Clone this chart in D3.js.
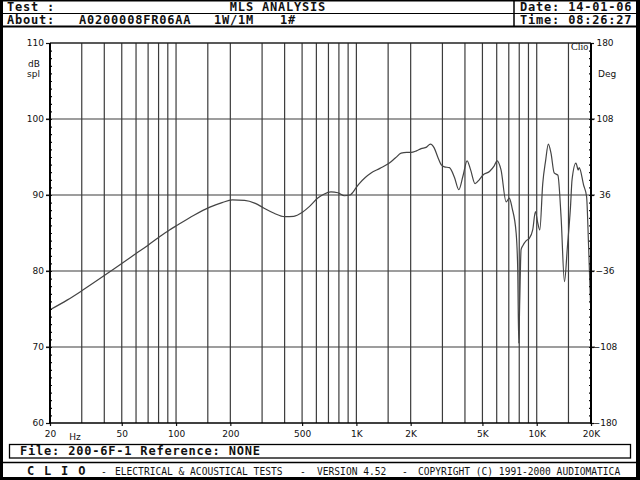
<!DOCTYPE html>
<html><head><meta charset="utf-8">
<script src="https://cdn.jsdelivr.net/npm/d3@7"></script>
<style>body{margin:0;background:#fff}svg{display:block}</style>
</head><body>
<script>
// ---- data ----
const freqs = [20,25,30,40,50,60,70,80,92,102,125,154,180,205,240,275,306,350,400,450,500,550,611,660,723,790,858,920,1000,1038,1120,1206,1350,1524,1650,1770,1900,2010,2150,2286,2450,2572,2700,2826,2950,3077,3280,3500,3698,3900,4112,4300,4552,4800,5022,5472,5800,6031,6340,6765,7050,7300,7690,7850,7950,8050,8190,8400,8750,9100,9500,9840,10100,10400,10800,11200,11600,12000,12500,13100,13650,14250,14800,15400,15700,16500,17000,17200,18200,18900,19400,20000];
const splDb = [74.9,76.2,77.4,79.4,81.0,82.3,83.4,84.4,85.4,86.05,87.3,88.4,89.0,89.35,89.3,88.9,88.3,87.6,87.15,87.2,87.7,88.5,89.6,90.1,90.4,90.3,89.9,90.0,91.0,91.5,92.3,92.9,93.5,94.2,94.9,95.5,95.6,95.6,95.8,96.1,96.3,96.7,96.2,95.0,94.0,93.7,93.6,92.3,90.7,92.5,94.5,93.3,91.5,92.0,92.6,93.1,93.8,94.5,93.3,89.1,89.6,88.3,85.0,80.0,70.5,76.0,82.8,83.4,84.0,84.3,85.4,87.8,86.5,85.4,91.5,94.5,96.7,95.5,92.9,92.6,87.1,78.6,83.2,88.5,92.0,94.2,93.3,93.6,91.3,89.8,83.2,74.0];
const gridFreqs = [30,40,50,60,70,80,90,100,150,200,300,400,500,600,700,800,900,1000,1500,2000,3000,4000,5000,6000,7000,8000,9000,10000,15000];
const xTickValues = [20,50,100,200,500,1000,2000,5000,10000,20000];
const xTickLabels = ["20","50","100","200","500","1K","2K","5K","10K","20K"];
const yTicks = [60,70,80,90,100,110];
const yGrid = [70,80,90,100];
const degTicks = [-180,-108,-36,36,108,180];
const headerTexts = {test:"Test :", title:"MLS ANALYSIS", date:"Date: 14-01-06", about:"About:", code:"A0200008FR06AA", power:"1W/1M", num:"1#", time:"Time: 08:26:27"};
const fileText = "File: 200-6F-1 Reference: NONE";

// ---- layout ----
const W = 640, H = 480;
const L = 50, R = 591, T = 43, B = 423;
const svg = d3.select("body").append("svg").attr("width", W).attr("height", H);
svg.append("rect").attr("width", W).attr("height", H).attr("fill", "#fff");

const x = d3.scaleLog().domain([20, 20000]).range([L, R]);
const y = d3.scaleLinear().domain([60, 110]).range([B, T]);
const yd = d3.scaleLinear().domain([-180, 180]).range([B, T]);

const mono = "'DejaVu Sans Mono', 'Liberation Mono', monospace";
const sans = "'DejaVu Sans', Verdana, sans-serif";

// grid
const grid = svg.append("g").attr("stroke", "#3c3c3c").attr("stroke-width", 1.2);
grid.selectAll("line.v").data(gridFreqs).join("line").attr("class","v")
  .attr("x1", d => x(d)).attr("x2", d => x(d)).attr("y1", T).attr("y2", B);
grid.selectAll("line.h").data(yGrid).join("line").attr("class","h")
  .attr("x1", L - 4).attr("x2", R + 4).attr("y1", d => y(d)).attr("y2", d => y(d));
// top frame
svg.append("line").attr("x1", L).attr("x2", R).attr("y1", T).attr("y2", T).attr("stroke", "#222").attr("stroke-width", 1.3);

// curve
const line = d3.line().x((d, i) => x(freqs[i])).y(d => y(d)).curve(d3.curveMonotoneX);
svg.append("path").datum(splDb).attr("d", line).attr("fill", "none").attr("stroke", "#444").attr("stroke-width", 1.2);

// axes
function styleAxis(g) {
  g.select(".domain").remove();
  g.selectAll("line").attr("stroke", "#111").attr("stroke-width", 1.2);
  g.selectAll("text").attr("font-family", sans).attr("font-size", 9).attr("fill", "#111");
}
const gl = svg.append("g").attr("transform", `translate(${L},0)`)
  .call(d3.axisLeft(y).tickValues(yTicks).tickSize(4).tickPadding(2).tickFormat(d3.format("d")));
styleAxis(gl);
const glm = svg.append("g").attr("transform", `translate(${L},0)`)
  .call(d3.axisRight(y).tickValues(d3.range(61, 110, 1)).tickSize(2).tickFormat(""));
styleAxis(glm);
const gr = svg.append("g").attr("transform", `translate(${R},0)`)
  .call(d3.axisRight(yd).tickValues(degTicks).tickSize(3).tickPadding(3).tickFormat(d3.format("d")));
styleAxis(gr);
gr.selectAll("text").attr("text-anchor", "middle").attr("x", 14);
const grm = svg.append("g").attr("transform", `translate(${R},0)`)
  .call(d3.axisLeft(yd).tickValues(d3.range(-172.8, 180, 7.2)).tickSize(2).tickFormat(""));
styleAxis(grm);
const gb = svg.append("g").attr("transform", `translate(0,${B})`)
  .call(d3.axisBottom(x).tickValues(xTickValues).tickSize(3).tickPadding(5).tickFormat((d, i) => xTickLabels[i]));
styleAxis(gb);

svg.append("line").attr("x1", L).attr("x2", L).attr("y1", T).attr("y2", B + 1).attr("stroke", "#000").attr("stroke-width", 2);
svg.append("line").attr("x1", R).attr("x2", R).attr("y1", T).attr("y2", B + 1).attr("stroke", "#000").attr("stroke-width", 2);
svg.append("line").attr("x1", L).attr("x2", R).attr("y1", B).attr("y2", B).attr("stroke", "#000").attr("stroke-width", 1.5);

const lab = (t, xx, yy, anchor, font, size, weight) => svg.append("text").text(t).attr("x", xx).attr("y", yy)
  .attr("text-anchor", anchor || "start").attr("font-family", font || sans).attr("font-size", size || 9)
  .attr("font-weight", weight || "normal").attr("fill", "#111");
lab("dB", 28, 67); lab("spl", 27, 77);
lab("Deg", 598, 77);
lab("Hz", 75, 440, "middle");
lab("Clio", 571, 50, "start", "'Liberation Serif', 'DejaVu Serif', serif", 10);

// header
const hdr = svg.append("g");
hdr.append("line").attr("x1", 0).attr("x2", W).attr("y1", 0.75).attr("y2", 0.75).attr("stroke", "#000").attr("stroke-width", 1.5);
hdr.append("line").attr("x1", 0).attr("x2", W).attr("y1", 13.5).attr("y2", 13.5).attr("stroke", "#000").attr("stroke-width", 1.2);
hdr.append("line").attr("x1", 0).attr("x2", W).attr("y1", 26.5).attr("y2", 26.5).attr("stroke", "#000").attr("stroke-width", 2);
hdr.append("line").attr("x1", 514).attr("x2", 514).attr("y1", 0).attr("y2", 27).attr("stroke", "#000").attr("stroke-width", 1.5);
const ht = (t, xx, yy, anchor) => lab(t, xx, yy, anchor, mono, 12, "bold").attr("letter-spacing", 0.8);
ht(headerTexts.test, 7, 11);
ht(headerTexts.title, 278, 11, "middle");
ht(headerTexts.date, 520, 11);
ht(headerTexts.about, 7, 24);
ht(headerTexts.code, 79, 24);
ht(headerTexts.power, 214, 24);
ht(headerTexts.num, 280, 24);
ht(headerTexts.time, 520, 24);

// file box
svg.append("rect").attr("x", 9.5).attr("y", 444.5).attr("width", 621).attr("height", 13.5).attr("fill", "none").attr("stroke", "#000").attr("stroke-width", 1.3);
ht(fileText, 20, 455);

// footer
svg.append("line").attr("x1", 0).attr("x2", W).attr("y1", 462.5).attr("y2", 462.5).attr("stroke", "#000").attr("stroke-width", 1.5);
lab("C L I O", 27, 475, "start", mono, 12, "bold").attr("letter-spacing", 1.3);
const ft = (t, xx) => lab(t, xx, 475, "start", mono, 9.6);
ft("-", 101); ft("ELECTRICAL & ACOUSTICAL TESTS", 115); ft("-", 300); ft("VERSION 4.52", 317); ft("-", 402); ft("COPYRIGHT (C) 1991-2000 AUDIOMATICA", 418);

// outer frame
svg.append("line").attr("x1", 1.5).attr("x2", 1.5).attr("y1", 0).attr("y2", H).attr("stroke", "#000").attr("stroke-width", 3);
svg.append("line").attr("x1", 638).attr("x2", 638).attr("y1", 0).attr("y2", H).attr("stroke", "#000").attr("stroke-width", 4);
svg.append("line").attr("x1", 0).attr("x2", W).attr("y1", 478.5).attr("y2", 478.5).attr("stroke", "#000").attr("stroke-width", 3);
</script>
</body></html>
